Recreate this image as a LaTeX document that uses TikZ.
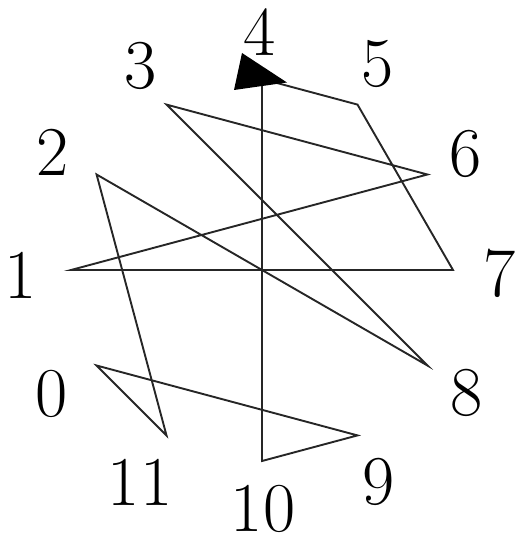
\documentclass[tikz,border=0pt]{standalone}
\begin{document}
\begin{tikzpicture}[x=1pt,y=-1pt,
  edge/.style={draw=black!85,line width=1.9pt,line join=miter},
  lbl/.style={inner sep=0pt,font=\fontsize{70}{84}\selectfont}]
\useasboundingbox (0,0) rectangle (516,540);
\foreach \k in {0,...,11}{
  \coordinate (p\k) at ({262+191*cos(210-30*\k)},{270-191*sin(210-30*\k)});
}
\node[lbl] (l0) at (52,394) {0};
\node[lbl] (l1) at (21,275) {1};
\node[lbl] (l2) at (53,152) {2};
\node[lbl] (l3) at (141,66) {3};
\node[lbl] (l4) at (260,32) {4};
\node[lbl] (l5) at (378,64) {5};
\node[lbl] (l6) at (466,154) {6};
\node[lbl] (l7) at (500,273) {7};
\node[lbl] (l8) at (467,393) {8};
\node[lbl] (l9) at (379,482) {9};
\node[lbl] (l10) at (263,509) {10};
\node[lbl] (l11) at (140,482) {11};
\draw[edge] (p4) -- (p10) -- (p9) -- (p0) -- (p11) -- (p2) -- (p8) -- (p3) -- (p6) -- (p1) -- (p7) -- (p5) -- (p4);
\fill[black] (242,53) -- (234,90) -- (287,82.5) -- cycle;
\end{tikzpicture}
\end{document}
